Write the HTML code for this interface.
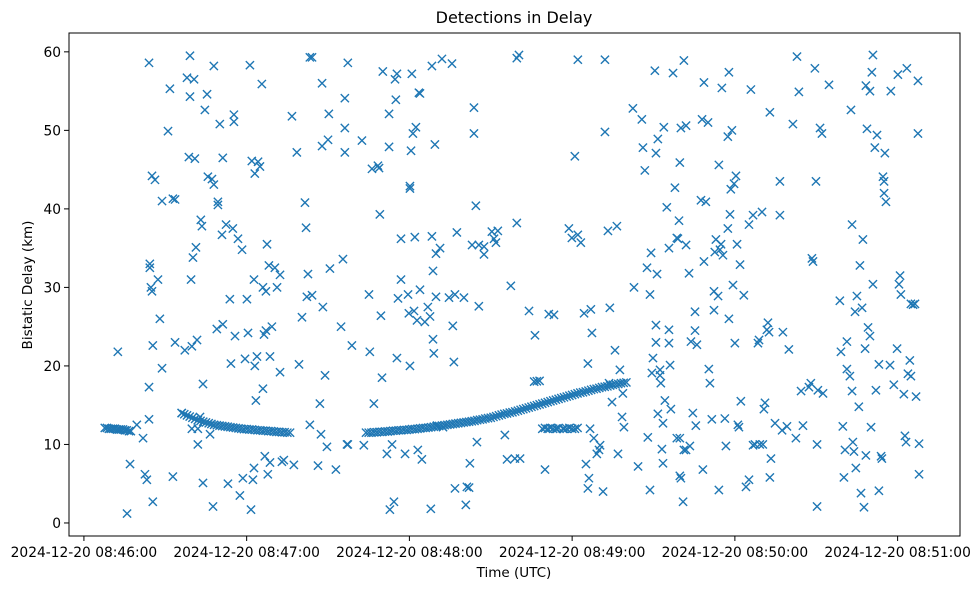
<!DOCTYPE html>
<html><head><meta charset="utf-8">
<style>
html,body{margin:0;padding:0;background:#fff;}
svg{display:block;font-family:"DejaVu Sans","Liberation Sans",sans-serif;}
</style></head>
<body>
<svg id="chart" width="979" height="590" viewBox="0 0 979 590" xmlns="http://www.w3.org/2000/svg">
<rect width="979" height="590" fill="#fff"/>
<text x="514" y="23" text-anchor="middle" font-size="16">Detections in Delay</text>
<text x="514" y="577" text-anchor="middle" font-size="13.5">Time (UTC)</text>
<text transform="translate(32,285) rotate(-90)" text-anchor="middle" font-size="13.5">Bistatic Delay (km)</text>
<g id="marks"></g>
<g id="axes"></g>
<rect x="69" y="33" width="891" height="503" fill="none" stroke="#000" stroke-width="1"/>
</svg>
<script>
const xTickLabels = ["2024-12-20 08:46:00","2024-12-20 08:47:00","2024-12-20 08:48:00","2024-12-20 08:49:00","2024-12-20 08:50:00","2024-12-20 08:51:00"];
const xTickSeconds = [0,60,120,180,240,300];
const yTicks = [0,10,20,30,40,50,60];
// scattered detections: seconds after 08:46:00 and delay (km)
const scatterTimes = [12.5,15.9,17,19.5,21.8,22.5,23.2,24,24,24,24.3,24.3,24.7,25.1,25.1,25.4,25.4,26.2,27.3,28,28.8,28.8,31,31.7,32.8,33.6,33.6,32.8,36.1,37.2,38,38.7,39.1,39.1,39.5,39.8,39.8,40.2,40.6,40.9,41.3,41.7,42,42,42.8,43.1,43.5,43.9,43.9,44.6,45.4,45.7,46.5,47.2,47.6,47.9,47.9,49,49.4,49.4,50.1,50.9,51.2,51.2,52.4,53.1,53.8,54.2,54.9,55.3,55.3,55.7,56.8,57.5,58.3,58.6,59.4,60.1,60.5,61.2,61.6,61.9,62.3,62.7,62.7,63,63,63.4,63.8,64.2,64.9,65.6,66,66,66.4,66.7,67.1,67.1,67.5,67.8,68.2,68.6,68.6,69.3,70.4,71.2,72.3,72.3,73,73.7,76.7,77.4,78.5,79.3,80.4,81.5,81.9,82.2,82.6,83.3,83.3,84.1,84.1,86.3,87,87.4,87.8,87.8,88.1,88.9,89.6,90,90.3,90.7,92.9,94.8,95.5,96.2,96.2,96.2,97,97.3,97.3,98.8,102.5,103.2,105.1,105.4,106.2,106.9,108.4,108.8,109.1,109.5,109.9,110.2,111.7,112.5,112.5,112.8,113.6,114.3,114.7,115,115.4,115.4,115.8,116.9,116.9,118.4,119.5,119.8,120.2,120.2,120.2,120.6,120.9,121.3,121.7,122,122.4,122.8,123.1,123.5,123.9,123.9,124.6,125.7,126.8,127.6,127.9,128.3,128.3,128.7,128.7,129,129.4,129.8,129.8,130.2,131.3,132,132.4,134.6,135.7,136,136.4,136.8,136.8,137.5,140.1,140.8,141.2,142,142.3,143.1,143.8,143.8,144.5,144.9,145.6,145.6,147.5,147.5,150.4,151.2,151.9,152.6,155.2,156,157.4,158.9,159.6,159.6,160.4,160.8,164.1,166.3,170,171.4,173.3,174.4,176.6,178.8,179.9,181,182.1,182.1,183.2,184.4,185.1,185.8,185.8,186.2,186.9,187.3,188,189.1,189.9,190.3,191.4,192.1,192.1,193.2,193.6,193.9,194.7,195.8,196.5,196.9,197.6,198.4,198.7,199.1,202.4,202.8,204.3,205.7,206.1,206.8,207.6,207.9,208.7,208.7,209.1,209.4,209.8,210.5,210.9,210.9,210.9,211.3,211.6,211.6,212.4,212.4,212.7,213.1,213.5,213.5,213.8,214.2,214.9,215.7,215.7,215.7,216.1,216.4,217.2,217.9,218.6,218.6,219,219.4,219.7,219.7,219.7,220.1,220.1,220.9,221.2,221.2,222,222,222,223.1,223.4,223.8,224.5,225.3,225.3,225.6,226,227.5,227.9,228.2,228.6,228.6,229.3,230.1,230.4,230.8,231.5,232.3,232.3,232.6,233,233.8,234.1,234.1,234.5,234.9,235.2,235.6,236.3,236.7,237.4,237.4,237.8,237.8,238.2,238.5,238.9,239.3,239.7,240,240.4,240.8,241.1,241.5,241.9,242.2,243.3,244.1,245.2,245.2,245.9,246.7,246.7,247.4,248.5,248.9,249.2,250,250.3,250.7,251.1,251.8,252.2,252.6,252.9,252.9,253.3,254.8,256.6,256.6,257.4,257.7,259.2,259.9,261.4,262.5,262.9,263.6,264.4,265.1,267.3,268,268.4,268.8,269.5,269.9,270.3,270.3,270.6,271.4,272.1,272.5,274.7,278.7,279.1,279.8,280.2,280.6,281.3,281.3,282.4,282.8,283.2,283.2,283.5,283.9,284.3,284.6,285,285.7,286.1,286.5,286.9,287.2,287.6,288,288.3,288.3,288.7,289.1,289.8,289.8,290.2,290.5,290.9,290.9,291.6,292,292.4,293.1,293.1,293.9,294.2,294.6,295,295,295.3,295.7,297.2,297.5,298.6,299.8,300.1,300.5,300.9,301.2,302.3,302.7,303.1,303.4,303.8,304.5,304.9,304.9,305.7,306.4,306.8,307.5,307.5,307.9,307.9];
const scatterDelays = [21.8,1.2,7.5,12.5,10.8,6.2,5.5,58.6,17.3,13.2,33,32.5,30,29.5,44.2,2.7,22.6,43.7,31,26,19.7,41,49.9,55.3,41.3,41.2,23,5.9,14,22,56.7,46.6,59.5,54.3,31,12,22.5,33.8,56.5,46.4,35.1,23.3,10,12,13.5,38.6,37.8,17.7,5.1,52.6,54.6,44.1,11.3,43.8,2.1,58.2,43.1,24.7,40.9,40.5,50.8,36.7,46.5,25.3,38,5,28.5,20.3,37.5,51.1,52,23.8,36.2,3.5,34.8,5.7,20.9,28.5,24.2,58.3,1.7,46.1,5.5,31,7,44.5,20,15.6,21.2,46,45.4,55.9,30,17.1,24,8.5,29.5,24.5,35.5,6.2,32.8,21.2,7.7,25,32.5,30,19.2,31.6,7.8,8,51.8,7.4,47.2,20.2,26.2,40.8,37.6,28.8,31.7,59.3,12.5,59.3,29,7.3,15.2,11.3,56,48,27.5,18.8,9.7,48.8,52.1,32.4,6.8,25,33.6,54.1,50.3,47.2,10,10,58.6,22.6,48.7,9.9,29.1,21.8,45.1,15.2,45.5,45.2,39.3,26.4,18.5,57.5,8.8,47.9,52.1,1.7,10,2.7,56.5,53.9,57.2,21,28.6,31,36.2,8.8,29.1,26.7,42.9,42.6,20,47.4,57.2,49.6,27,36.4,50.4,25.8,9.3,54.8,54.7,29.7,8.1,25.6,27.5,26.3,1.8,36.5,58.2,32.1,23.4,21.6,48.2,28.8,34.3,12.4,35,59.1,12.2,28.7,58.5,25.1,20.5,4.4,29.1,37,28.7,2.3,4.6,4.5,7.6,35.4,52.9,49.6,40.4,10.3,27.6,35.4,34.2,35.2,37.1,36.2,35.7,37.2,11.2,8.1,30.2,8.2,59.2,38.2,59.6,8.2,27,23.9,6.8,26.6,26.5,12,12,37.5,36.3,46.7,59,36.7,35.7,26.7,7.5,20.3,4.4,5.7,27.2,24.2,10.8,8.8,9.3,9.9,4,49.8,59,37.2,17.8,27.4,15.4,22,37.8,8.8,19.5,13.5,16.5,12.2,52.8,30,7.2,51.4,47.8,44.9,32.5,10.9,29.1,4.2,34.4,19.1,21,57.6,47.1,25.2,23,31.7,48.9,13.9,19.5,18.8,17.8,9.4,12.7,7.6,50.4,15.6,40.2,35,24.6,22.9,20.1,14.5,57.3,42.7,36.3,10.8,36.2,38.5,45.9,10.8,6,5.7,50.3,2.7,58.9,9.3,35.4,50.6,9.3,31.8,9.8,23.1,14,26.9,24.5,12.4,22.7,41.1,51.4,6.8,56.1,33.3,40.9,51,19.6,17.8,13.2,29.5,27.1,34.5,36.1,28.9,45.6,4.2,34.8,35.5,55.4,34.1,13.3,9.8,49.2,37.5,57.4,26,39.3,42.5,50,30.3,43.2,22.9,44.2,35.5,12.5,12.2,32.9,15.5,29,4.6,5.5,38,55.2,39.2,9.9,10,22.9,23.3,10,39.6,10,14.5,15.3,24.6,25.5,24.3,5.8,52.3,8.2,12.7,43.5,39.2,11.8,24.3,12.3,22.1,50.8,10.8,59.4,54.9,16.8,12.4,17.3,17.8,33.7,33.3,57.9,43.5,10,2.1,16.9,50.3,49.6,16.5,55.8,28.3,21.8,12.3,5.8,9.3,23.1,19.6,18.7,52.6,38,16.8,10.3,9.1,26.9,7,28.9,14.8,32.8,3.8,27.4,36.1,2,22.2,8.6,55.7,50.2,24.9,23.8,55,12.2,57.4,59.6,30.4,47.8,16.9,49.4,20.2,4.1,8.5,8.2,44.1,43.5,42,47.1,40.9,20.1,55,17.6,22.2,57.1,30.4,31.5,29.1,16.4,11.1,10.3,57.9,19,20.7,18.7,27.9,27.8,27.9,16.1,56.3,49.6,10.1,6.2];
// target tracks (dense detections)
const trackTimes = [7.7,8.5,9.2,9.9,10.7,11.4,12.2,12.9,13.6,14.4,15.1,15.8,16.6,17.3,
36,37,38,39,40,41,42,43,44,45,46,47,48,49,50,51,52,53,54,55,56,57,58,59,60,61,62,63,64,65,66,67,68,69,70,71,72,73,74,75,76,
104,105,106,107,108,109,110,111,112,113,114,115,116,117,118,119,120,121,122,123,124,125,126,127,128,129,130,131,132,133,134,135,136,137,138,139,140,141,142,143,144,145,146,147,148,149,150,151,152,153,154,155,156,157,158,159,160,161,162,163,164,165,166,167,168,169,170,171,172,173,174,175,176,177,178,179,180,181,182,183,184,185,186,187,188,189,190,191,192,193,194,195,196,197,198,199,200,
166,167,168,169,170,171,172,173,174,175,177,178,179,180,181,182,186.6];
const trackDelays = [12.1,12.1,12.0,12.0,12.0,12.0,11.9,11.9,11.9,11.9,11.8,11.8,11.7,11.7,
14.0,13.85,13.7,13.55,13.4,13.25,13.1,13.0,12.9,12.8,12.7,12.6,12.5,12.45,12.4,12.35,12.3,12.25,12.2,12.15,12.1,12.05,12.0,11.95,11.95,11.9,11.9,11.85,11.8,11.8,11.75,11.75,11.7,11.7,11.65,11.6,11.6,11.55,11.55,11.5,11.5,
11.5,11.5,11.5,11.55,11.55,11.6,11.6,11.65,11.65,11.7,11.75,11.75,11.8,11.8,11.85,11.85,11.9,11.95,11.95,12.0,12.05,12.1,12.1,12.15,12.2,12.25,12.3,12.35,12.4,12.45,12.5,12.55,12.6,12.65,12.7,12.75,12.8,12.85,12.9,12.95,13.0,13.1,13.15,13.2,13.3,13.35,13.4,13.5,13.6,13.7,13.8,13.9,13.95,14.05,14.1,14.2,14.3,14.4,14.5,14.6,14.7,14.8,14.9,15.0,15.1,15.2,15.3,15.4,15.5,15.6,15.7,15.8,15.9,16.0,16.1,16.2,16.3,16.4,16.5,16.6,16.65,16.75,16.85,16.95,17.05,17.1,17.2,17.3,17.35,17.4,17.5,17.6,17.65,17.7,17.8,17.85,17.9,18.0,18.05,18.1,
12.0,12.1,12.0,12.1,12.0,12.0,12.1,12.0,12.0,12.1,12.0,12.0,12.1,12.0,12.0,12.1,12.0];

const X0 = 69, X1 = 960, Y0 = 536, Y1 = 33;
const xMin = -5.5, xMax = 323, yMin = -1.66, yMax = 62.4;
const NS = "http://www.w3.org/2000/svg";
function xs(t){ return X0 + (t - xMin) / (xMax - xMin) * (X1 - X0); }
function ys(v){ return Y0 - (v - yMin) / (yMax - yMin) * (Y0 - Y1); }
function mk(tag, attrs){ const e = document.createElementNS(NS, tag); for (const k in attrs) e.setAttribute(k, attrs[k]); return e; }

const axes = document.getElementById('axes');
xTickSeconds.forEach((s, i) => {
  const x = xs(s);
  const tk = mk('line', {x1:x, x2:x, y1:Y0, y2:Y0+5, stroke:'#000', 'stroke-width':1});
  
  
  axes.appendChild(tk);
  const lb = mk('text', {x:x, y:Y0+21, 'text-anchor':'middle', 'font-size':'13.8'});
  
  
  lb.textContent = xTickLabels[i];
  axes.appendChild(lb);
});
yTicks.forEach(v => {
  const y = ys(v);
  const tk = mk('line', {x1:X0-5, x2:X0, y1:y, y2:y, stroke:'#000', 'stroke-width':1});
  
  
  axes.appendChild(tk);
  const lb = mk('text', {x:X0-8, y:y+5, 'text-anchor':'end', 'font-size':'13.8'});
  
  
  lb.textContent = String(v);
  axes.appendChild(lb);
});

const marks = document.getElementById('marks');
function drawX(t, v, name){
  const x = xs(t), y = ys(v), r = 4.1;
  const p = mk('path', {d:`M${x-r},${y-r}L${x+r},${y+r}M${x-r},${y+r}L${x+r},${y-r}`, stroke:'#1f77b4', 'stroke-width':1.4, fill:'none'});
  
  
  marks.appendChild(p);
}
scatterTimes.forEach((t, i) => drawX(t, scatterDelays[i], 'detection-point'));
trackTimes.forEach((t, i) => drawX(t, trackDelays[i], 'track-point'));
</script>
</body></html>
